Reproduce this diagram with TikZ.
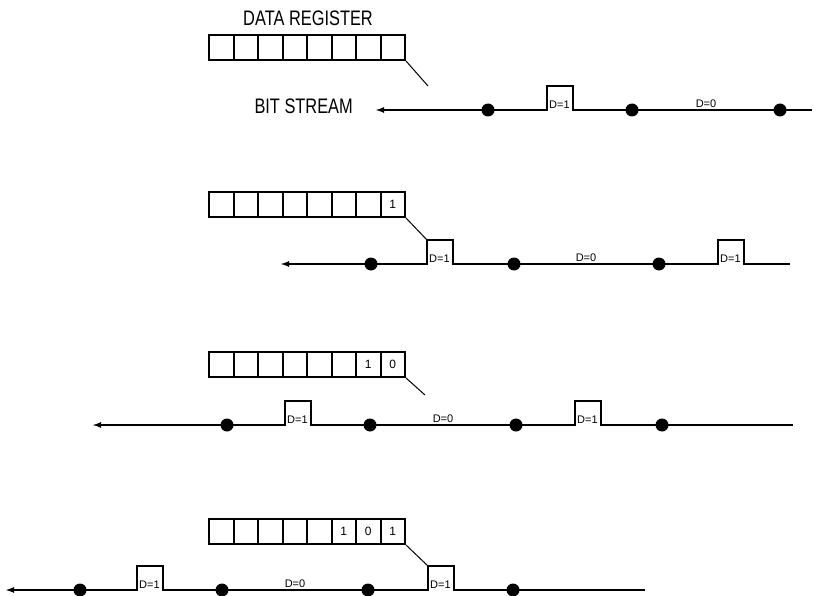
\documentclass[tikz,border=0pt]{standalone}
\usepackage{fontspec}
\newfontfamily\regfont{Liberation Sans}[FakeStretch=0.78]
\newfontfamily\bitfont{Liberation Sans}
\usetikzlibrary{arrows.meta,positioning}

\begin{document}
\begin{tikzpicture}[
  x=1pt,
  y=-1pt,
  register cell/.style={
    draw=black,
    line width=2pt,
    minimum width=24.5pt,
    minimum height=25pt,
    inner sep=0pt,
    anchor=north west
  },
  register title/.style={
    font=\regfont\fontsize{21}{23}\selectfont,
    inner sep=0pt
  },
  bit value/.style={
    font=\bitfont\fontsize{12}{13}\selectfont,
    inner sep=0pt
  },
  bit dot/.style={
    circle,
    fill=black,
    minimum size=13pt,
    inner sep=0pt
  },
  level label/.style={
    font=\bitfont\fontsize{11}{12}\selectfont,
    inner sep=1pt,
    anchor=south west
  },
  tap line/.style={
    draw=black,
    line width=1pt
  },
  bit stream/.style={
    draw=black,
    line width=2pt,
    {Latex[length=9pt,width=6pt]}-
  }
]
\useasboundingbox (0,0) rectangle (818,596);
\foreach \r/\top in {1/34,2/191,3/351,4/518}
{
  \foreach \k in {1,...,8}
    \node[register cell] (reg\r-\k) at ({208+24.5*(\k-1)},\top) {};
}
\node[register title, above=8pt of reg1-4.north east] (regtitle) {DATA REGISTER};
\node[bit value] (bit2-8) at (reg2-8) {1};
\foreach \k/\b in {7/1,8/0}
  \node[bit value] (bit3-\k) at (reg3-\k) {\b};
\foreach \k/\b in {6/1,7/0,8/1}
  \node[bit value] (bit4-\k) at (reg4-\k) {\b};
\foreach \r/\y/\xa/\xb/\marks/\pulses/\dz/\tx/\ty in {
  1/110/375/812/{488,632,780}/{547}/706/428/86,
  2/264/280/790/{371,514,659}/{427,718}/586/427/240,
  3/425/92/793/{227,370,516,662}/{285,575}/443/425/395,
  4/590/5/645/{80,222,368,513}/{137,428}/295/428/566}
{
  \coordinate (start\r) at (\xa,\y);
  \coordinate (end\r) at (\xb,\y);
  \coordinate (tap\r) at (\tx,\ty);
  \draw[bit stream] (start\r)
    \foreach \p in \pulses {-- (\p,\y) -- (\p,\y-24) -- (\p+26,\y-24) -- (\p+26,\y)}
    -- (end\r);
  \foreach \x [count=\k] in \marks
    \node[bit dot] (dot\r-\k) at (\x,\y) {};
  \foreach \p [count=\k] in \pulses
    \node[level label, xshift=1pt] (one\r-\k) at (\p,\y) {D=1};
  \node[level label, anchor=south] (zero\r) at (\dz,\y-1) {D=0};
  \draw[tap line] (reg\r-8.south east) -- (tap\r);
}
\node[register title, left=22pt of start1, yshift=4pt] (streamtitle) {BIT STREAM};
\end{tikzpicture}
\end{document}
